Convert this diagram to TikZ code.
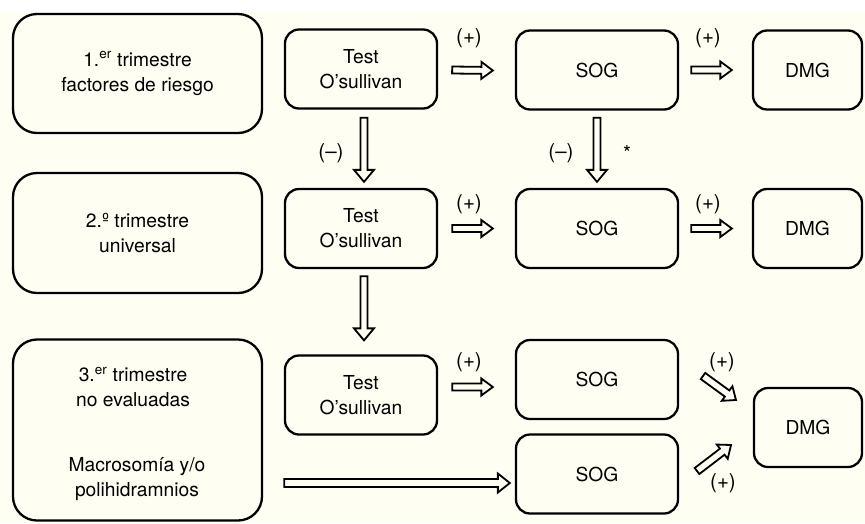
\documentclass[tikz,border=0pt]{standalone}
\usepackage{fontspec}
\setmainfont{TeX Gyre Heros}
\usetikzlibrary{calc}
\definecolor{cream}{RGB}{254,254,243}
\begin{document}
\begin{tikzpicture}[x=1pt,y=-1pt,
  every node/.style={font=\fontsize{19.25}{25}\selectfont, align=center, inner sep=0pt},
  lbl/.style={font=\fontsize{20.5}{25}\selectfont},
  bigbox/.style={draw, line width=2.3pt, rounded corners=24pt, minimum width=249pt, fill=cream},
  smallbox/.style={draw, line width=2.3pt, rounded corners=14pt, minimum height=79pt, fill=cream},
  fat/.style n args={3}{draw, fill=cream, line width=1.8pt, line join=miter, to path={
     ($(\tikztostart)!#1!90:(\tikztotarget)$) --
     ($(\tikztotarget)!#3!(\tikztostart)!#1!90:(\tikztotarget)$) --
     ($(\tikztotarget)!#3!(\tikztostart)!#2!90:(\tikztotarget)$) --
     (\tikztotarget) --
     ($(\tikztotarget)!#3!(\tikztostart)!#2!-90:(\tikztotarget)$) --
     ($(\tikztotarget)!#3!(\tikztostart)!#1!-90:(\tikztotarget)$) --
     ($(\tikztostart)!#1!-90:(\tikztotarget)$) -- cycle
  }}]
\useasboundingbox (0,0) rectangle (865,523);
\fill[white] (0,0) rectangle (865,523);
\fill[cream] (0,12) rectangle (865,523);

% left boxes
\node[bigbox, minimum height=119pt] (L1) at (137.5,73.5) {1.\textsuperscript{er} trimestre\\factores de riesgo};
\node[bigbox, minimum height=120pt] (L2) at (137.5,233) {2.º trimestre\\universal};
\node[bigbox, minimum height=181pt] (L3) at (137.5,430) {};
\node (L3a) at (133,387) {3.\textsuperscript{er} trimestre\\no evaluadas};
\node (L3b) at (137,479) {Macrosomía y/o\\polihidramnios};

% test boxes
\node[smallbox, minimum width=152pt] (T1) at (361,69) {Test\\O’sullivan};
\node[smallbox, minimum width=152pt] (T2) at (361,228.5) {Test\\O’sullivan};
\node[smallbox, minimum width=152pt] (T3) at (361,395) {Test\\O’sullivan};

% SOG boxes
\node[smallbox, minimum width=162pt] (S1) at (597,70) {SOG};
\node[smallbox, minimum width=162pt] (S2) at (597,228.5) {SOG};
\node[smallbox, minimum width=162pt] (S3) at (597,379.5) {SOG};
\node[smallbox, minimum width=162pt] (S4) at (597,474) {SOG};

% DMG boxes
\node[smallbox, minimum width=109pt] (D1) at (807.5,70) {DMG};
\node[smallbox, minimum width=109pt] (D2) at (807.5,228.5) {DMG};
\node[smallbox, minimum width=108pt] (D3) at (808,427.5) {DMG};

% arrow end points
\coordinate (a1s) at ([xshift=14pt,yshift=-1pt]T1.east);
\coordinate (a1t) at ([xshift=-22pt,yshift=-0.5pt]S1.west);
\coordinate (a2s) at ([xshift=12pt]S1.east);
\coordinate (a2t) at ([xshift=-20pt]D1.west);
\coordinate (a3s) at ([xshift=14pt]T2.east);
\coordinate (a3t) at ([xshift=-22pt]S2.west);
\coordinate (a4s) at ([xshift=12pt]S2.east);
\coordinate (a4t) at ([xshift=-20pt]D2.west);
\coordinate (a5s) at ([xshift=14pt,yshift=8pt]T3.east);
\coordinate (a5t) at ([xshift=-22pt,yshift=-7.5pt]S3.west);
\coordinate (v1s) at ([xshift=3pt,yshift=-8pt]T1.south);
\coordinate (v1t) at ([xshift=3pt,yshift=6pt]T2.north);
\coordinate (v2s) at ([yshift=-7pt]S1.south);
\coordinate (v2t) at ([yshift=6pt]S2.north);
\coordinate (v3s) at ([xshift=3pt,yshift=-7pt]T2.south);
\coordinate (v3t) at ([xshift=3pt,yshift=14pt]T3.north);
\coordinate (lgs) at ([xshift=21pt,yshift=-53pt]L3.east);
\coordinate (lgt) at ([xshift=-5pt,yshift=-9pt]S4.west);
\coordinate (d1s) at (703,376);
\coordinate (d1t) at (736,400);
\coordinate (d2s) at (697,471);
\coordinate (d2t) at (731,445);

% arrows
\path[fat={3.5pt}{8.5pt}{11.5pt}] (a1s) to (a1t);
\path[fat={3.5pt}{8.5pt}{11.5pt}] (a2s) to (a2t);
\path[fat={3.5pt}{8.5pt}{11.5pt}] (a3s) to (a3t);
\path[fat={3.5pt}{8.5pt}{11.5pt}] (a4s) to (a4t);
\path[fat={3.5pt}{8.5pt}{11.5pt}] (a5s) to (a5t);
\path[fat={3.5pt}{10pt}{12pt}] (v1s) to (v1t);
\path[fat={3.5pt}{10pt}{12pt}] (v2s) to (v2t);
\path[fat={3.5pt}{10pt}{12pt}] (v3s) to (v3t);
\path[fat={4pt}{9.5pt}{12pt}] (lgs) to (lgt);
\path[fat={3.8pt}{9pt}{11pt}] (d1s) to (d1t);
\path[fat={3.8pt}{9pt}{11pt}] (d2s) to (d2t);

% labels
\node[lbl] (p1) at (469,38) {(+)};
\node[lbl] (p2) at (708,38) {(+)};
\node[lbl] (p3) at (469,204) {(+)};
\node[lbl] (p4) at (708,204) {(+)};
\node[lbl] (p5) at (469,362) {(+)};
\node[lbl] (p6) at (722,362) {(+)};
\node[lbl] (p7) at (723,483) {(+)};
\node[lbl] (m1) at (331,153) {(–)};
\node[lbl] (m2) at (561,153) {(–)};
\node[lbl] (st) at (627,153) {*};
\end{tikzpicture}
\end{document}
